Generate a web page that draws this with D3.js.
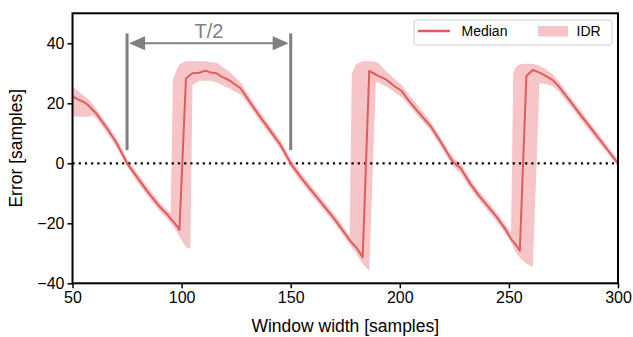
<!DOCTYPE html>
<html>
<head>
<meta charset="utf-8">
<script src="https://cdn.jsdelivr.net/npm/d3@7"></script>
<style>
  body { margin: 0; background: #fff; }
  svg { font-family: "Liberation Sans", Arial, sans-serif; }
</style>
</head>
<body>
<svg id="chart" width="633" height="337"></svg>
<script>
// window widths (samples)
const windowWidths = [50, 52, 55, 57, 59, 61, 65, 70, 75, 80, 85, 90, 92, 94, 95, 96, 98, 99, 102, 104, 105, 108, 111, 113, 116, 118, 120, 122, 124, 127, 130, 135, 140, 145, 150, 155, 160, 165, 170, 175, 177, 178, 180, 183, 186, 189, 190, 194, 197, 201, 204, 208, 214, 218, 223, 225, 228, 232, 236, 240, 244, 248, 251, 252, 253, 255, 258, 261, 264, 266, 270, 273, 278, 283, 288, 293, 300];
// median error
const medianError = [22.4, 21.5, 20.5, 19.5, 18, 16.5, 12.5, 7, 0, -5, -10, -14.5, -16, -17.5, -18.5, -19.3, -21, -22.2, 28.3, 29.5, 30, 30.2, 30.9, 30.3, 30, 29, 28.3, 27.6, 26.5, 25, 21.8, 16.5, 11.5, 6.5, 0, -5, -9.5, -14, -18.5, -23.5, -25.5, -26.5, -28, -31.3, 30.8, 29.6, 29.2, 27.8, 26, 24, 21, 17.5, 12.5, 8, 2, 0, -1.7, -6.5, -10.5, -14, -17.5, -21.5, -25.2, -26.1, -27, -29.1, 29.1, 31.1, 30.2, 29.5, 27.8, 25.5, 20.8, 16, 11.3, 6.6, 0];
// inter-decile range, lower and upper bound
const idrLow = [15.5, 15.5, 15.5, 15.5, 16, 15, 11, 5.5, -1, -6.5, -11.5, -16, -17.5, -19, -20, -21, -23, -24.5, -28, -28.5, 26, 27.5, 27.5, 27.5, 27, 26.3, 25.5, 25, 24, 23, 20.2, 15, 10, 5, -1.5, -6.5, -11, -15.5, -20, -25, -27, -28, -30, -33.5, -36, 27, 27, 25.5, 24, 22, 19.5, 16, 11, 6.5, 0.5, -1.5, -3.5, -8, -12, -15.5, -19, -23, -26.5, -28, -29.5, -31.5, -33.5, -34.5, 26.7, 26.5, 25.8, 23.8, 19.3, 14.5, 9.8, 5.3, -1];
const idrHigh = [25.5, 24.5, 22.5, 21.5, 20, 18, 14, 8.5, 1.5, -3.5, -8.5, -13, -14.5, -16, -16.5, 28, 31.5, 33, 34, 34, 34, 34, 34, 33.8, 33.5, 32.5, 31.5, 30.5, 29, 27, 23.5, 18, 13, 8, 1.5, -3.5, -8, -12.5, -17, -22, -24, 30, 33, 34, 34, 33.8, 33.5, 30.5, 28.5, 26, 23, 19.5, 14, 9.5, 3.5, 1.5, 0, -5, -9, -12.5, -16, -20, -23, 30, 32, 33, 33.2, 33.2, 32.5, 31.8, 29.8, 27.3, 22.3, 17.5, 12.8, 8, 1];

const xTicks = [50, 100, 150, 200, 250, 300];
const yTicks = [-40, -20, 0, 20, 40];
const halfPeriod = [75, 150];

const data = windowWidths.map((w, i) => ({ w, med: medianError[i], lo: idrLow[i], hi: idrHigh[i] }));

const margin = { top: 13.3, right: 15, bottom: 53.7, left: 72.5 };
const width = 633, height = 337;

const svg = d3.select('#chart');

const x = d3.scaleLinear().domain([50, 300]).range([margin.left, width - margin.right]);
const y = d3.scaleLinear().domain([-40, 50]).range([height - margin.bottom, margin.top]);

const lineColor = '#e05b5b';
const bandColor = '#f5c5c7';
const grey = '#808080';

svg.append('clipPath').attr('id', 'plot-clip')
  .append('rect')
  .attr('x', x(50)).attr('y', y(50))
  .attr('width', x(300) - x(50)).attr('height', y(-40) - y(50));

const plot = svg.append('g').attr('clip-path', 'url(#plot-clip)');

// IDR band
plot.append('path')
  .datum(data)
  .attr('fill', bandColor)
  .attr('d', d3.area().x(d => x(d.w)).y0(d => y(d.lo)).y1(d => y(d.hi)));

// zero line
plot.append('line')
  .attr('x1', x(50)).attr('x2', x(300))
  .attr('y1', y(0)).attr('y2', y(0))
  .attr('stroke', '#000')
  .attr('stroke-width', 2.2)
  .attr('stroke-dasharray', '2.2,4');

// median
plot.append('path')
  .datum(data)
  .attr('fill', 'none')
  .attr('stroke', lineColor)
  .attr('stroke-width', 2)
  .attr('stroke-linejoin', 'round')
  .attr('d', d3.line().x(d => x(d.w)).y(d => y(d.med)));

// T/2 annotation
const ann = svg.append('g');
halfPeriod.forEach(v => {
  ann.append('line')
    .attr('x1', x(v)).attr('x2', x(v))
    .attr('y1', y(43.3)).attr('y2', y(4.4))
    .attr('stroke', grey).attr('stroke-width', 3);
});
const ay = y(40);
const x0 = x(halfPeriod[0]) + 2, x1 = x(halfPeriod[1]) - 2;
ann.append('line')
  .attr('x1', x0 + 12).attr('x2', x1 - 12)
  .attr('y1', ay).attr('y2', ay)
  .attr('stroke', grey).attr('stroke-width', 2);
ann.append('path')
  .attr('d', `M${x0},${ay} L${x0 + 16},${ay - 7} L${x0 + 16},${ay + 7} Z`)
  .attr('fill', grey);
ann.append('path')
  .attr('d', `M${x1},${ay} L${x1 - 16},${ay - 7} L${x1 - 16},${ay + 7} Z`)
  .attr('fill', grey);
ann.append('text')
  .attr('x', x((halfPeriod[0] + halfPeriod[1]) / 2))
  .attr('y', 38.3)
  .attr('text-anchor', 'middle')
  .attr('font-size', 20)
  .attr('fill', grey)
  .text('T/2');

// axes
const fmt = d => d < 0 ? '\u2212' + Math.abs(d) : String(d);
const xAxis = svg.append('g')
  .attr('transform', `translate(0,${y(-40)})`)
  .call(d3.axisBottom(x).tickValues(xTicks).tickSize(5).tickPadding(3).tickFormat(fmt));
const yAxis = svg.append('g')
  .attr('transform', `translate(${x(50)},0)`)
  .call(d3.axisLeft(y).tickValues(yTicks).tickSize(5).tickPadding(3).tickFormat(fmt));

[xAxis, yAxis].forEach(a => {
  a.select('.domain').remove();
  a.selectAll('.tick line').attr('stroke', '#000').attr('stroke-width', 1.5);
  a.selectAll('.tick text').attr('font-size', 16).attr('fill', '#000')
    .attr('font-family', '"Liberation Sans", Arial, sans-serif');
});

// frame
svg.append('rect')
  .attr('x', x(50)).attr('y', y(50))
  .attr('width', x(300) - x(50)).attr('height', y(-40) - y(50))
  .attr('fill', 'none').attr('stroke', '#000').attr('stroke-width', 2);

svg.append('text')
  .attr('x', (x(50) + x(300)) / 2)
  .attr('y', 332)
  .attr('text-anchor', 'middle')
  .attr('font-size', 17.5)
  .text('Window width [samples]');

svg.append('text')
  .attr('transform', `translate(22,${(y(50) + y(-40)) / 2}) rotate(-90)`)
  .attr('text-anchor', 'middle')
  .attr('font-size', 17.5)
  .text('Error [samples]');

// legend
const lg = svg.append('g');
lg.append('rect')
  .attr('x', 414).attr('y', 20).attr('width', 198).attr('height', 25)
  .attr('rx', 3)
  .attr('fill', '#fff').attr('fill-opacity', 0.85)
  .attr('stroke', '#d0d0d0').attr('stroke-width', 1);
lg.append('line')
  .attr('x1', 418).attr('x2', 450).attr('y1', 31).attr('y2', 31)
  .attr('stroke', lineColor).attr('stroke-width', 2.5);
lg.append('text').attr('x', 461.5).attr('y', 36.3).attr('font-size', 14).text('Median');
lg.append('rect')
  .attr('x', 538).attr('y', 26).attr('width', 30).attr('height', 10.5)
  .attr('fill', bandColor);
lg.append('text').attr('x', 576.5).attr('y', 36.3).attr('font-size', 14).text('IDR');
</script>
</body>
</html>
